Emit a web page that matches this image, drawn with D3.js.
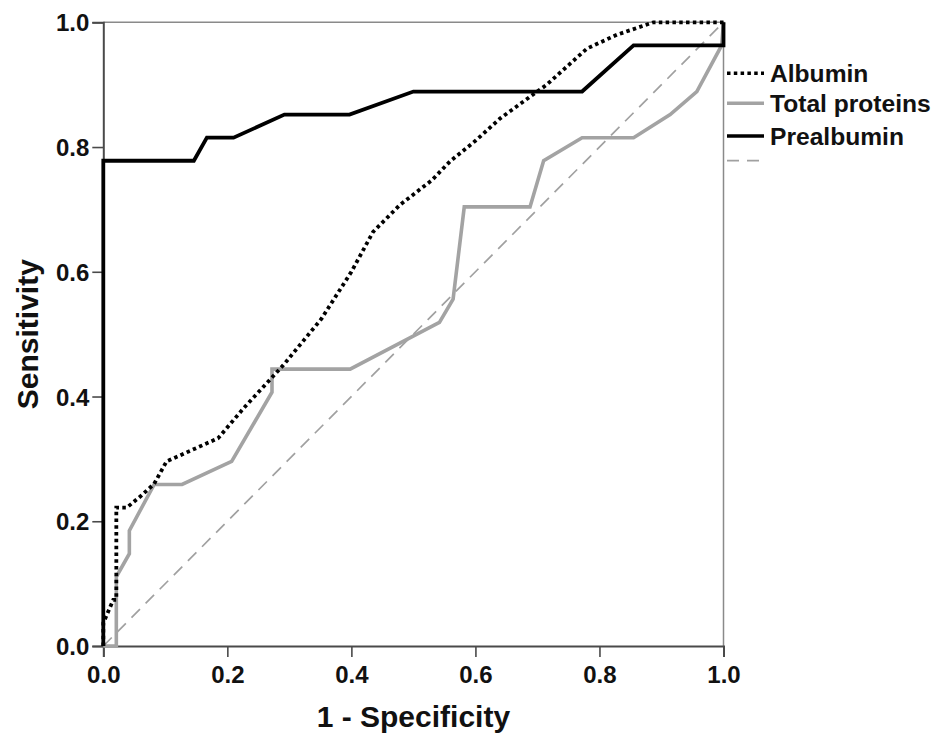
<!DOCTYPE html>
<html>
<head>
<meta charset="utf-8">
<script src="https://cdn.jsdelivr.net/npm/d3@7"></script>
<style>
  body { margin: 0; background: #fff; }
  text { font-family: "Liberation Sans", Arial, sans-serif; font-weight: bold; fill: #111; }
</style>
</head>
<body>
<svg id="chart" width="937" height="735"></svg>
<script>
// ROC curve points (1 - specificity, sensitivity)
var albuminX = [0, 0, 0.016, 0.021, 0.021, 0.038, 0.06, 0.082, 0.102, 0.185, 0.226, 0.29, 0.352, 0.40, 0.435, 0.478, 0.53, 0.559, 0.60, 0.64, 0.715, 0.78, 0.828, 0.887, 1];
var albuminY = [0, 0.037, 0.074, 0.074, 0.222, 0.222, 0.24, 0.26, 0.296, 0.333, 0.381, 0.45, 0.525, 0.60, 0.664, 0.707, 0.747, 0.777, 0.81, 0.846, 0.9, 0.958, 0.98, 1, 1];

var proteinX = [0, 0.021, 0.021, 0.042, 0.042, 0.082, 0.127, 0.207, 0.272, 0.272, 0.398, 0.542, 0.564, 0.582, 0.688, 0.71, 0.772, 0.855, 0.914, 0.957, 0.997, 1];
var proteinY = [0, 0, 0.111, 0.148, 0.185, 0.259, 0.259, 0.296, 0.407, 0.444, 0.444, 0.519, 0.556, 0.704, 0.704, 0.778, 0.815, 0.815, 0.852, 0.889, 0.963, 1];

var prealbX = [0, 0, 0.146, 0.167, 0.21, 0.292, 0.397, 0.5, 0.772, 0.855, 1, 1];
var prealbY = [0, 0.778, 0.778, 0.815, 0.815, 0.852, 0.852, 0.889, 0.889, 0.963, 0.963, 1];

var refX = [0, 1];
var refY = [0, 1];

var ticks = [0, 0.2, 0.4, 0.6, 0.8, 1.0];
var legendNames = ['Albumin', 'Total proteins', 'Prealbumin', ''];

var svg = d3.select('#chart');

var x = d3.scaleLinear().domain([0, 1]).range([103.3, 723.5]);
var y = d3.scaleLinear().domain([0, 1]).range([646, 22.3]);

// series styles
var styles = [
  {stroke: '#000', width: 3.8, dash: '3.5,3.3'},
  {stroke: '#a3a3a3', width: 3.6, dash: null},
  {stroke: '#000', width: 3.8, dash: null},
  {stroke: '#a0a0a0', width: 1.7, dash: '12,8'}
];

function pts(xs, ys) {
  return xs.map(function(v, i) { return [v, ys[i]]; });
}

var line = d3.line()
  .x(function(d) { return x(d[0]); })
  .y(function(d) { return y(d[1]); });

// frame (top and right)
svg.append('path')
  .attr('d', 'M' + x(0) + ',' + y(1) + 'H' + x(1) + 'V' + y(0))
  .style('fill', 'none')
  .style('stroke', '#8a8a8a')
  .style('stroke-width', 1.5);

// axes
var xAxis = svg.append('g')
  .attr('transform', 'translate(0,' + y(0) + ')')
  .call(d3.axisBottom(x).tickValues(ticks).tickFormat(d3.format('.1f')).tickSize(11).tickPadding(9));
var yAxis = svg.append('g')
  .attr('transform', 'translate(' + x(0) + ',0)')
  .call(d3.axisLeft(y).tickValues(ticks).tickFormat(d3.format('.1f')).tickSize(11).tickPadding(3));

[xAxis, yAxis].forEach(function(a) {
  a.select('.domain').style('stroke', '#4a4a4a').style('stroke-width', 2);
  a.selectAll('.tick line').style('stroke', '#4a4a4a').style('stroke-width', 1.6);
  a.selectAll('.tick text')
    .style('font-size', '24px')
    .style('font-family', '"Liberation Sans", Arial, sans-serif')
    .style('font-weight', 'bold')
    .style('fill', '#111');
});
yAxis.selectAll('.tick text').attr('dy', '0.36em');

// series
var series = [pts(refX, refY), pts(proteinX, proteinY), pts(albuminX, albuminY), pts(prealbX, prealbY)];
var order = [3, 1, 0, 2];
series.forEach(function(s, i) {
  var st = styles[order[i]];
  svg.append('path')
    .datum(s)
    .attr('d', line)
    .style('fill', 'none')
    .style('stroke', st.stroke)
    .style('stroke-width', st.width)
    .style('stroke-dasharray', st.dash)
    .style('stroke-linejoin', 'miter');
});

// axis titles
svg.append('text')
  .attr('x', (x(0) + x(1)) / 2)
  .attr('y', 727)
  .attr('text-anchor', 'middle')
  .style('font-size', '30px')
  .text('1 - Specificity');

svg.append('text')
  .attr('transform', 'translate(38,' + ((y(0) + y(1)) / 2) + ') rotate(-90)')
  .attr('text-anchor', 'middle')
  .style('font-size', '30px')
  .text('Sensitivity');

// legend
var legendY = [73.3, 103.3, 136, 160.7];
var legend = svg.append('g');
legendNames.forEach(function(name, i) {
  var st = styles[i];
  legend.append('line')
    .attr('x1', 727).attr('x2', 764)
    .attr('y1', legendY[i]).attr('y2', legendY[i])
    .style('stroke', st.stroke)
    .style('stroke-width', i == 3 ? 1.7 : 3.6)
    .style('stroke-dasharray', st.dash);
  legend.append('text')
    .attr('x', 770)
    .attr('y', legendY[i] + 8.8)
    .style('font-size', '24.6px')
    .text(name);
});
</script>
</body>
</html>
